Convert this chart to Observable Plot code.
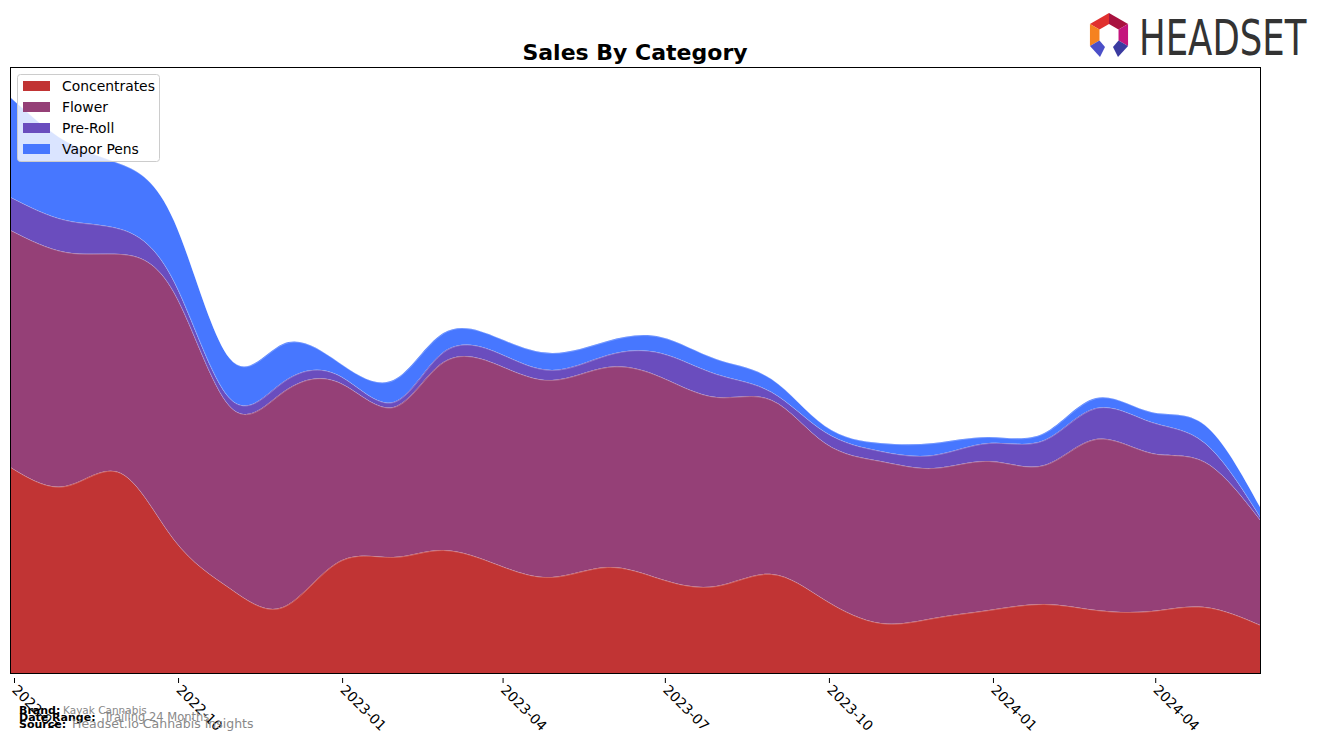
<!DOCTYPE html>
<html><head><meta charset="utf-8">
<script src="https://cdn.jsdelivr.net/npm/d3@7"></script>
<script src="https://cdn.jsdelivr.net/npm/@observablehq/plot@0.6"></script>
<style>
body{margin:0;background:#fff;}
#wrap{position:relative;width:1324px;height:743px;overflow:hidden;font-family:"DejaVu Sans",sans-serif;}
#overlay{position:absolute;left:0;top:0;pointer-events:none;}
</style></head><body><div id="wrap"></div>
<script>
const months = ["2022-07","2022-08","2022-09","2022-10","2022-11","2022-12","2023-01","2023-02","2023-03","2023-04","2023-05","2023-06","2023-07","2023-08","2023-09","2023-10","2023-11","2023-12","2024-01","2024-02","2024-03","2024-04","2024-05","2024-06"];
const categories = ["Concentrates","Flower","Pre-Roll","Vapor Pens"];
const colors = ["#c13434","#954077","#6a4dbe","#4777ff"];
const concentrates = [206,187,200,133,85,66,111,116,123,108,96,106,94,87,99,73,50,55,63,69,63,62,66,48];
const flower      = [237,234,219,247,182,215,180,150,188,200,197,200,202,189,174,157,162,150,149,139,171,158,145,105];
const preRoll     = [33,32,25,11,8,10,7,5,10,12,10,12,24,23,8,11,10,13,18,25,31,31,19,3];
const vaporPens   = [100,79,65,61,40,38,13,22,19,15,17,14,16,15,13,6,8,12,6,7,10,10,18,10];
const xTicks = ["2022-07","2022-10","2023-01","2023-04","2023-07","2023-10","2024-01","2024-04"];
const footer = [["Brand:","Kayak Cannabis"],["Date Range:","Trailing 24 Months"],["Source:","Headset.io Cannabis Insights"]];
const title = "Sales By Category";

const series = [concentrates, flower, preRoll, vaporPens];
const parse = d3.utcParse("%Y-%m");
const data = [];
categories.forEach((c, ci) => months.forEach((m, i) => data.push({date: parse(m), category: c, value: series[ci][i]})));

const W = 1324, H = 743;
const chart = Plot.plot({
  width: W, height: H,
  marginLeft: 10, marginRight: 64, marginTop: 67, marginBottom: 70,
  style: {fontFamily: "DejaVu Sans, sans-serif", fontSize: "13.9px", color: "black", background: "white", overflow: "visible"},
  x: {type: "utc", domain: [parse(months[0]), parse(months[months.length - 1])]},
  y: {domain: [0, 606], axis: null},
  color: {domain: categories, range: colors},
  marks: [
    Plot.areaY(data, {x: "date", y: "value", fill: "category", order: categories, curve: "natural"}),
    Plot.lineY(data, Plot.stackY2({x: "date", y: "value", z: "category", order: categories, curve: "natural", stroke: "white", strokeOpacity: 0.3, strokeWidth: 0.8})),
    Plot.axisX({ticks: xTicks.map(parse), tickFormat: d3.utcFormat("%Y-%m"), tickRotate: 45, tickSize: 5, tickPadding: 4, dx: 4, dy: 5, stroke: "black"}),
    Plot.frame({stroke: "black", strokeWidth: 1})
  ]
});
const wrap = document.getElementById("wrap");
wrap.appendChild(chart);

// overlay: title, legend, footer, logo
const ov = d3.select(wrap).append("svg").attr("id", "overlay").attr("width", W).attr("height", H)
  .style("font-family", "DejaVu Sans, sans-serif");
ov.append("text").attr("x", 635).attr("y", 60).attr("text-anchor", "middle")
  .attr("font-size", 22).attr("font-weight", "bold").text(title);

const lg = ov.append("g");
lg.append("rect").attr("x", 17.5).attr("y", 74.5).attr("width", 142).attr("height", 87).attr("rx", 3)
  .attr("fill", "white").attr("fill-opacity", 0.8).attr("stroke", "#cccccc");
categories.forEach((c, i) => {
  const cy = 86 + i * 21;
  lg.append("rect").attr("x", 23).attr("y", cy - 5).attr("width", 27).attr("height", 10).attr("fill", colors[i]);
  lg.append("text").attr("x", 62).attr("y", cy + 5).attr("font-size", 13.9).text(c);
});

const fy = [714, 721, 727.5], fvx = [63, 104, 72], fvs = [10.5, 11.5, 12.5];
footer.forEach(([k, v], i) => {
  ov.append("text").attr("x", 19).attr("y", fy[i]).attr("font-size", 11).attr("font-weight", "bold").text(k);
  ov.append("text").attr("x", fvx[i]).attr("y", fy[i]).attr("font-size", fvs[i]).attr("fill", "#888888").text(v);
});

// logo
const lo = ov.append("g");
const cx = 1109, cy = 35, R = 22, r = 11;
const pt = (a, rad) => [cx + rad * Math.cos(a * Math.PI / 180), cy + rad * Math.sin(a * Math.PI / 180)];
const quads = [[210, -90, "#e0302f"], [-90, -30, "#a8123f"], [-30, 30, "#c4157d"], [150, 210, "#f58220"]];
quads.forEach(([a1, a2, col]) => {
  const p = [pt(a1, R), pt(a2, R), pt(a2, r), pt(a1, r)];
  lo.append("polygon").attr("points", p.map(d => d.join(",")).join(" ")).attr("fill", col);
});
const legL = [pt(150, R), pt(150, r), [cx - 4, cy + 12], [cx - 9, cy + 22]];
const legR = [pt(30, R), pt(30, r), [cx + 4, cy + 12], [cx + 9, cy + 22]];
lo.append("polygon").attr("points", legL.map(d => d.join(",")).join(" ")).attr("fill", "#4b4fc8");
lo.append("polygon").attr("points", legR.map(d => d.join(",")).join(" ")).attr("fill", "#3a3aa0");
lo.append("text").attr("transform", "translate(1139,55) scale(0.71,1)").attr("font-size", 50).attr("fill", "#333333")
  .text("HEADSET");
</script></body></html>
